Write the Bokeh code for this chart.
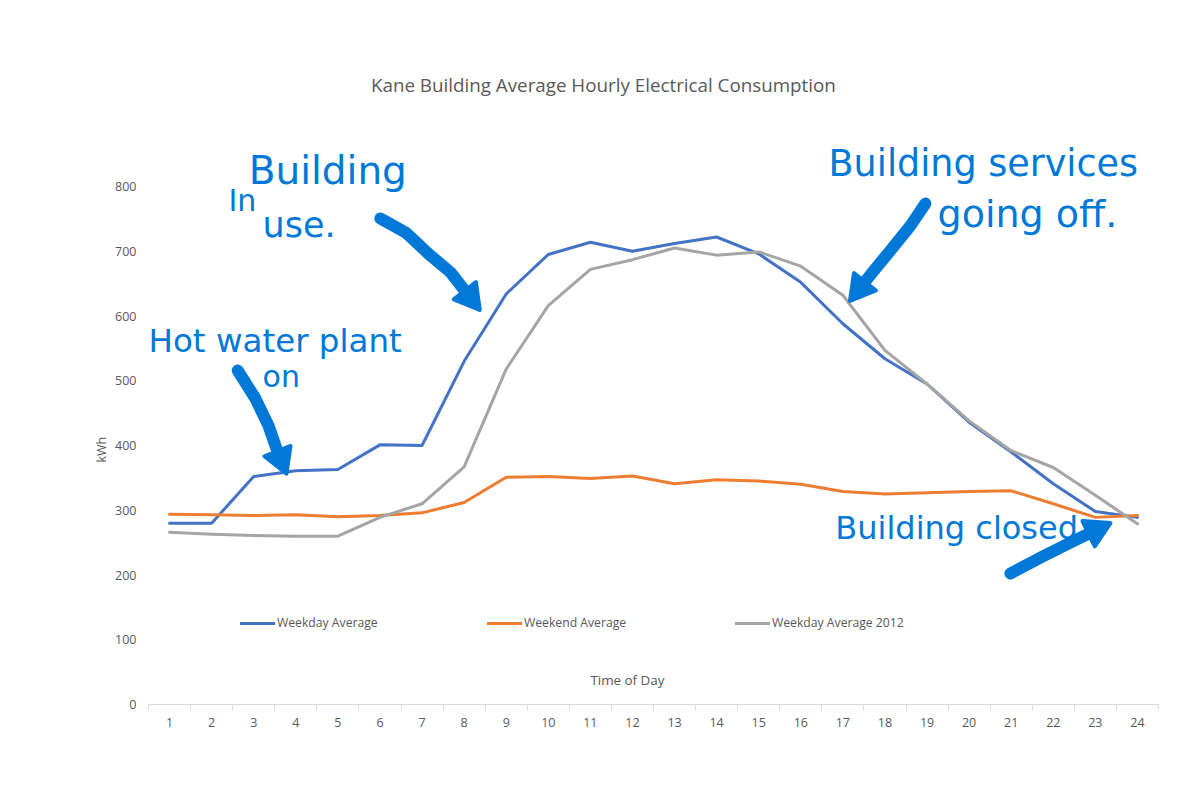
import math
from bokeh.plotting import figure
from bokeh.models import Range1d, FixedTicker, Label, Legend, LegendItem, Title
from bokeh.embed import file_html
from bokeh.resources import INLINE

# ---------------- data ----------------
hours = list(range(1, 25))
weekday_avg = [280, 280, 352, 361, 363, 401, 400, 530, 634, 695, 714, 700,
               712, 722, 696, 652, 588, 534, 495, 436, 390, 341, 298, 289]
weekend_avg = [294, 293, 292, 293, 290, 292, 296, 312, 351, 352, 349, 353,
               341, 347, 345, 340, 329, 325, 327, 329, 330, 310, 289, 292]
weekday_2012 = [266, 263, 261, 260, 260, 289, 310, 367, 518, 616, 672, 687,
                705, 694, 699, 677, 632, 547, 495, 438, 392, 366, 323, 279]
y_ticks = [0, 100, 200, 300, 400, 500, 600, 700, 800]

series_names = ["Weekday Average", "Weekend Average", "Weekday Average 2012"]
series_colors = ["#4472C4", "#ED7D31", "#A5A5A5"]

title_text = "Kane Building Average Hourly Electrical Consumption"
x_title = "Time of Day"
y_title = "kWh"

ink = "#0078D7"
grey_text = "#595959"

FRAME_W, FRAME_H = 1010, 644
X0, X1 = 0.5, 24.5
Y0, Y1 = 0, 994.6

# ---------------- figure ----------------
p = figure(output_backend="svg", toolbar_location=None,
           frame_width=FRAME_W, frame_height=FRAME_H,
           min_border_left=148, min_border_right=30,
           min_border_top=60, min_border_bottom=60,
           x_range=Range1d(X0, X1), y_range=Range1d(Y0, Y1),
           background_fill_color="white", border_fill_color="white")
p.outline_line_color = None
p.xgrid.grid_line_color = None
p.ygrid.grid_line_color = None

# x axis
p.xaxis.ticker = FixedTicker(ticks=hours, minor_ticks=[h - 0.5 for h in hours] + [24.5])
p.xaxis.axis_line_color = "#D9D9D9"
p.xaxis.axis_line_width = 1
p.xaxis.major_tick_line_color = None
p.xaxis.major_tick_out = 0
p.xaxis.major_tick_in = 0
p.xaxis.minor_tick_line_color = "#D9D9D9"
p.xaxis.minor_tick_out = 6
p.xaxis.minor_tick_in = 0
p.xaxis.major_label_text_font = "Open Sans"
p.xaxis.major_label_text_font_size = "12.5px"
p.xaxis.major_label_text_color = grey_text
p.xaxis.major_label_standoff = 7

# y axis
p.yaxis.ticker = FixedTicker(ticks=y_ticks, minor_ticks=[])
p.yaxis.axis_line_color = None
p.yaxis.major_tick_line_color = None
p.yaxis.minor_tick_line_color = None
p.yaxis.major_tick_out = 0
p.yaxis.major_tick_in = 0
p.yaxis.major_label_text_font = "Open Sans"
p.yaxis.major_label_text_font_size = "12.5px"
p.yaxis.major_label_text_color = grey_text
p.yaxis.major_label_standoff = 12

# y axis title as a side title (so it can sit off-centre like the reference)
p.add_layout(Title(text=y_title, align="left", offset=242, text_font="Open Sans",
                   text_font_size="12.5px", text_font_style="normal",
                   text_color=grey_text, standoff=6), "left")

# ---------------- series ----------------
renderers = []
for ys, col in zip([weekday_avg, weekend_avg, weekday_2012], series_colors):
    r = p.line(hours, ys, line_color=col, line_width=3,
               line_join="round", line_cap="round")
    renderers.append(r)

legend_x = [92, 339, 587]
for name, r, lx in zip(series_names, renderers, legend_x):
    lg = Legend(items=[LegendItem(label=name, renderers=[r])],
                location=(lx, 73), orientation="horizontal",
                border_line_color=None, background_fill_alpha=0,
                padding=0, margin=0, spacing=0,
                glyph_width=35, glyph_height=16, label_standoff=2,
                label_text_font="Open Sans", label_text_font_size="12.2px",
                label_text_color=grey_text, label_height=16)
    p.add_layout(lg, "center")

# ---------------- chart texts ----------------
p.add_layout(Label(x=11.31, y=956, text=title_text, text_align="center",
                   text_baseline="middle", text_font="Open Sans",
                   text_font_size="18.8px", text_color=grey_text))
p.add_layout(Label(x=11.88, y=38.6, text=x_title, text_align="center",
                   text_baseline="middle", text_font="Open Sans",
                   text_font_size="13.4px", text_color=grey_text))

# ---------------- hand-drawn annotations ----------------
notes = [
    ("Building", 2.88, 824, "39px"),
    ("In", 2.40, 778, "30px"),
    ("use.", 3.21, 740, "35px"),
    ("Hot water plant", 0.5, 562, "32.5px"),
    ("on", 3.21, 506, "30px"),
    ("Building services", 16.66, 835, "36.5px"),
    ("going off.", 19.25, 758, "38px"),
    ("Building closed.", 16.82, 272, "32px"),
]
for txt, nx, ny, fs in notes:
    p.add_layout(Label(x=nx, y=ny, text=txt, text_align="left",
                       text_baseline="middle", text_font="DejaVu Sans",
                       text_font_size=fs, text_color=ink))

arrow_paths = [
    ([6.01, 6.61, 7.20, 7.68], [750.6, 729.0, 693.4, 667.2], (8.29, 616.2)),
    ([2.62, 3.04, 3.35, 3.54], [515.8, 472.6, 430.9, 395.4], (3.73, 364.5)),
    ([18.96, 18.61, 18.13, 17.70], [773.7, 739.8, 701.2, 667.2], (17.25, 630.1)),
    ([20.98, 21.70, 22.41], [202.3, 227.0, 250.2], (23.24, 276.4)),
]
px_x = FRAME_W / (X1 - X0)
px_y = FRAME_H / (Y1 - Y0)
head = 28
for xs, ys, tip in arrow_paths:
    dxp = (tip[0] - xs[-1]) * px_x
    dyp = (tip[1] - ys[-1]) * px_y
    L = math.hypot(dxp, dyp)
    ux, uy = dxp / L, dyp / L
    cx = tip[0] - ux * head * 0.38 / px_x
    cy = tip[1] - uy * head * 0.38 / px_y
    p.line(xs + [cx], ys + [cy], line_color=ink, line_width=12,
           line_cap="round", line_join="round")
    p.scatter([cx], [cy], marker="triangle", size=head,
              angle=math.atan2(dyp, dxp) - math.pi / 2,
              fill_color=ink, line_color=ink, line_width=4, line_join="round")

open("out.html", "w").write(file_html(p, INLINE))
